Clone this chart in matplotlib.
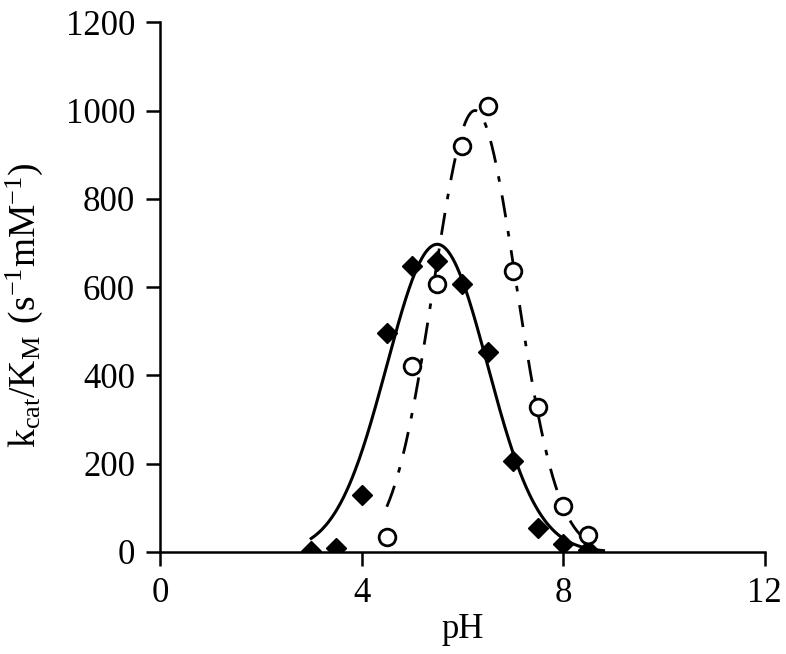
import matplotlib
matplotlib.use('Agg')
import matplotlib.pyplot as plt
import numpy as np

plt.rcParams['font.family'] = ['Liberation Serif', 'DejaVu Serif']
plt.rcParams['mathtext.fontset'] = 'custom'
plt.rcParams['mathtext.rm'] = 'Liberation Serif'

### Données
pH_a = np.array([3, 3.5, 4, 4.5, 5, 5.5, 6, 6.5, 7, 7.5, 8, 8.5])
k_a = np.array([2, 10, 130, 497, 647, 660, 607, 454, 206, 55, 18, 5])  # losanges pleins

pH_b = np.array([4.5, 5, 5.5, 6, 6.5, 7, 7.5, 8, 8.5])
k_b = np.array([35, 421, 607, 920, 1010, 637, 328, 105, 39])  # cercles vides

# parametres des ajustements (gaussiennes)
fit_a = (697, 5.5, 1.0)   # hauteur, centre, largeur
fit_b = (1000, 6.25, 0.82)

def gauss(x, A, x0, s):
    return A*np.exp(-(x-x0)**2/(2*s**2))

xa = np.linspace(3.0, 8.8, 300)
xb = np.linspace(4.5, 8.5, 300)

ftsize = 25

fig = plt.figure(figsize=(7.86, 6.54), dpi=100)
ax = fig.add_axes([0.2036, 0.156, 0.7694, 0.810])

ax.plot(xa, gauss(xa, *fit_a), '-', color='black', lw=2.2)
ax.plot(xb, gauss(xb, *fit_b), color='black', lw=2, dashes=(8, 5, 2, 5))
ax.plot(pH_a, k_a, 'D', color='black', ms=10, zorder=3)
ax.plot(pH_b, k_b, 'o', mfc='white', mec='black', mew=2, ms=12, zorder=3)

ax.set_xlim(0, 12)
ax.set_ylim(0, 1200)
ax.set_xticks([0, 4, 8, 12])
ax.set_yticks(np.arange(0, 1201, 200))
ax.spines['top'].set_visible(False)
ax.spines['right'].set_visible(False)
for sp in ('left', 'bottom'):
    ax.spines[sp].set_linewidth(1.8)
ax.tick_params(axis='both', direction='out', length=10, width=1.8,
               labelsize=ftsize, pad=8)
ax.set_xlabel('pH', fontsize=ftsize, labelpad=2)
ax.set_ylabel(r'$\mathregular{k_{cat}/K_M\ (s^{-1}mM^{-1})}$', fontsize=27)
ax.yaxis.set_label_coords(-0.19, 0.465)

fig.savefig('out.png', dpi=100)
